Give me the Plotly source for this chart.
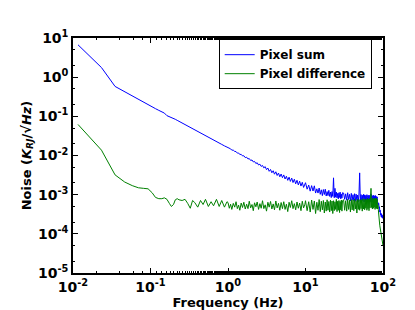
import plotly.graph_objects as go

# frequency grid (Hz), shared by both spectra
freq = [
    0.0116, 0.0233, 0.0349, 0.0465, 0.0582, 0.0698, 0.0815, 0.0931, 0.105, 0.116,
    0.128, 0.140, 0.151, 0.163, 0.175, 0.186, 0.198, 0.209, 0.221, 0.233,
    0.256, 0.279, 0.302, 0.326, 0.349, 0.372, 0.407, 0.442, 0.477, 0.512,
    0.558, 0.605, 0.651, 0.71, 0.77, 0.83, 0.9, 0.97,
    1.0, 1.04, 1.08, 1.12, 1.17, 1.22, 1.27, 1.32, 1.37, 1.42,
    1.48, 1.54, 1.6, 1.67, 1.74, 1.81, 1.88, 1.96, 2.04, 2.12,
    2.2, 2.29, 2.38, 2.48, 2.58, 2.68, 2.79, 2.9, 3.02, 3.14,
    3.27, 3.4, 3.54, 3.68, 3.83, 3.98, 4.14, 4.31, 4.48, 4.66,
    4.85, 5.04, 5.24, 5.45, 5.67, 5.9, 6.14, 6.38, 6.64, 6.9,
    7.18, 7.47, 7.77, 8.08, 8.4, 8.74, 9.09, 9.45, 9.83,
    10, 10.5, 11, 11.5, 12, 12.5, 13, 13.5, 14, 14.5,
    15, 15.5, 16, 16.5, 17, 17.5, 18, 18.5, 19, 19.5,
    20, 20.5, 21, 21.5, 22, 22.5, 23, 23.5, 24, 24.5,
    25, 25.5, 26, 26.5, 27, 27.5, 28, 28.5, 29, 29.5, 30,
    31, 32, 33, 34, 35, 36, 37, 38, 39, 40,
    41, 42, 43, 44, 45, 46, 47, 48, 49, 50,
    51, 52, 53, 54, 55, 56, 57, 58, 59, 60,
    61, 62, 63, 64, 65, 66, 67, 68, 69, 70,
    71, 72, 73, 74, 75, 76, 77, 78, 79, 80,
    81, 82, 83, 84, 85,
    86, 87, 88, 89, 90, 91, 92, 93, 94, 95, 96, 97, 98, 99, 100,
]

# Pixel sum noise (K_RJ/sqrt(Hz))
pixel_sum = [
    6.7, 1.76, 0.58, 0.42, 0.33, 0.272, 0.230, 0.200, 0.175, 0.157,
    0.142, 0.129, 0.121, 0.104, 0.099, 0.095, 0.089, 0.084, 0.079, 0.0748,
    0.0676, 0.0615, 0.0566, 0.0522, 0.0485, 0.0453, 0.0411, 0.0377, 0.0347, 0.0322,
    0.0293, 0.0269, 0.0248, 0.0227, 0.0208, 0.0192, 0.0176, 0.0163,
    1.62e-2, 1.49e-2, 1.48e-2, 1.37e-2, 1.37e-2, 1.27e-2, 1.26e-2, 1.15e-2, 1.16e-2, 1.06e-2,
    1.07e-2, 9.75e-3, 9.86e-3, 8.83e-3, 9.06e-3, 8.17e-3, 8.36e-3, 7.46e-3, 7.69e-3, 6.86e-3,
    7.06e-3, 6.24e-3, 6.53e-3, 5.73e-3, 6.01e-3, 5.27e-3, 5.56e-3, 4.83e-3, 5.2e-3, 4.35e-3,
    4.78e-3, 3.95e-3, 4.4e-3, 3.62e-3, 4.08e-3, 3.33e-3, 3.84e-3, 3.09e-3, 3.56e-3, 2.86e-3,
    3.37e-3, 2.71e-3, 3.19e-3, 2.51e-3, 2.95e-3, 2.32e-3, 2.8e-3, 2.18e-3, 2.65e-3, 2.04e-3,
    2.48e-3, 1.89e-3, 2.33e-3, 1.77e-3, 2.21e-3, 1.66e-3, 2.07e-3, 1.53e-3, 1.94e-3,
    2.02e-3, 1.38e-3, 1.76e-3, 1.23e-3, 1.70e-3, 1.24e-3, 1.68e-3, 1.10e-3, 1.41e-3, 1.10e-3,
    1.48e-3, 1.02e-3, 1.33e-3, 9.44e-4, 1.35e-3, 1.01e-3, 1.38e-3, 9.23e-4, 1.20e-3, 9.44e-4,
    1.29e-3, 9.02e-4, 1.17e-3, 8.41e-4, 1.20e-3, 9.02e-4, 2.69e-3, 8.32e-4, 1.45e-3, 8.61e-4,
    1.17e-3, 8.28e-4, 1.08e-3, 7.82e-4, 1.12e-3, 8.47e-4, 1.16e-3, 7.83e-4, 1.03e-3, 8.15e-4, 1.12e-3,
    1.10e-3, 7.6e-4, 1.05e-3, 7.2e-4, 1.12e-3, 7.5e-4, 1.02e-3, 6.9e-4, 1.08e-3, 7.3e-4,
    1.00e-3, 7.0e-4, 1.06e-3, 6.8e-4, 1.03e-3, 7.1e-4, 9.8e-4, 6.6e-4, 1.04e-3, 3.6e-3,
    6.9e-4, 1.01e-3, 6.7e-4, 9.7e-4, 7.0e-4, 1.02e-3, 6.5e-4, 9.9e-4, 6.8e-4, 9.6e-4,
    6.6e-4, 1.00e-3, 6.4e-4, 9.5e-4, 6.9e-4, 9.8e-4, 6.5e-4, 9.4e-4, 6.7e-4, 1.05e-3,
    6.4e-4, 9.6e-4, 6.6e-4, 9.3e-4, 6.3e-4, 9.7e-4, 6.5e-4, 9.2e-4, 6.2e-4, 9.5e-4,
    6.4e-4, 9.0e-4, 6.1e-4, 8.8e-4, 6.0e-4,
    6.3e-4, 5.5e-4, 6.0e-4, 4.6e-4, 4.9e-4, 3.6e-4, 4.0e-4, 3.0e-4, 3.4e-4, 2.7e-4,
    3.2e-4, 2.6e-4, 3.0e-4, 2.5e-4, 2.8e-4,
]

# Pixel difference noise (K_RJ/sqrt(Hz))
pixel_diff = [
    0.062, 0.0137, 0.0032, 0.0021, 0.0017, 0.0015, 0.00145, 0.00141, 0.00112, 0.00085,
    0.00079, 0.00079, 0.00083, 0.00076, 0.0006, 0.0005, 0.00056, 0.00074, 0.00079, 0.00074,
    0.00071, 0.00076, 0.0006, 0.00045, 0.00071, 0.00063, 0.00048, 0.00071, 0.00056, 0.00076,
    0.0005, 0.00066, 0.00052, 0.00076, 0.0005, 0.00071, 0.00048, 0.00066,
    6.3e-4, 4.5e-4, 5.7e-4, 4.2e-4, 6.0e-4, 4.8e-4, 6.6e-4, 4.4e-4, 5.4e-4, 4.0e-4,
    6.1e-4, 4.7e-4, 6.4e-4, 4.3e-4, 5.7e-4, 4.4e-4, 6.8e-4, 4.6e-4, 5.6e-4, 3.9e-4,
    6.2e-4, 4.9e-4, 6.5e-4, 4.2e-4, 5.9e-4, 4.5e-4, 7.0e-4, 4.4e-4, 5.5e-4, 3.8e-4,
    6.4e-4, 4.8e-4, 6.7e-4, 4.3e-4, 5.8e-4, 4.1e-4, 6.9e-4, 4.6e-4, 6.0e-4, 4.0e-4,
    6.3e-4, 4.4e-4, 6.6e-4, 4.2e-4, 5.7e-4, 3.7e-4, 6.4e-4, 4.7e-4, 7.0e-4, 4.4e-4,
    5.9e-4, 4.1e-4, 6.5e-4, 4.5e-4, 6.1e-4, 3.9e-4, 6.8e-4, 4.6e-4, 5.7e-4,
    7.0e-4, 3.9e-4, 6.6e-4, 3.6e-4, 7.3e-4, 4.2e-4, 6.9e-4, 3.3e-4, 6.4e-4, 4.0e-4,
    7.5e-4, 3.7e-4, 6.8e-4, 4.1e-4, 7.1e-4, 3.4e-4, 6.5e-4, 3.8e-4, 7.4e-4, 4.0e-4,
    6.7e-4, 3.6e-4, 7.2e-4, 3.9e-4, 6.9e-4, 3.3e-4, 7.0e-4, 3.9e-4, 6.6e-4, 4.2e-4,
    7.6e-4, 3.7e-4, 6.8e-4, 4.0e-4, 7.1e-4, 3.5e-4, 6.7e-4, 4.1e-4, 7.3e-4, 3.8e-4, 7.0e-4,
    7.4e-4, 4.0e-4, 7.0e-4, 3.8e-4, 7.6e-4, 4.2e-4, 7.2e-4, 3.6e-4, 7.5e-4, 4.1e-4,
    7.3e-4, 3.9e-4, 7.8e-4, 4.3e-4, 7.1e-4, 3.4e-4, 7.6e-4, 4.2e-4, 7.4e-4, 4.0e-4,
    7.7e-4, 4.4e-4, 7.3e-4, 3.8e-4, 7.9e-4, 4.3e-4, 7.5e-4, 4.1e-4, 7.8e-4, 4.5e-4,
    7.4e-4, 4.0e-4, 8.0e-4, 4.4e-4, 7.6e-4, 3.9e-4, 7.9e-4, 4.6e-4, 7.5e-4, 1.45e-3,
    4.7e-4, 7.8e-4, 4.3e-4, 8.1e-4, 4.5e-4, 7.7e-4, 4.8e-4, 8.0e-4, 4.2e-4, 7.9e-4,
    4.6e-4, 8.2e-4, 4.4e-4, 7.6e-4, 4.3e-4,
    5.5e-4, 4.2e-4, 3.6e-4, 2.6e-4, 2.0e-4, 1.6e-4, 1.4e-4, 1.1e-4, 1.0e-4, 8.0e-5,
    8.9e-5, 6.3e-5, 7.1e-5, 5.6e-5, 5.0e-5,
]

x_ticks = [0.01, 0.1, 1, 10, 100]
x_labels = ["10<sup>-2</sup>", "10<sup>-1</sup>", "10<sup>0</sup>", "10<sup>1</sup>", "10<sup>2</sup>"]
y_ticks = [1e-5, 1e-4, 1e-3, 1e-2, 1e-1, 1, 10]
y_labels = ["10<sup>-5</sup>", "10<sup>-4</sup>", "10<sup>-3</sup>", "10<sup>-2</sup>",
            "10<sup>-1</sup>", "10<sup>0</sup>", "10<sup>1</sup>"]

fig = go.Figure()
fig.add_trace(go.Scatter(x=freq, y=pixel_sum, mode="lines", name="Pixel sum",
                         line=dict(color="#0000ff", width=1)))
fig.add_trace(go.Scatter(x=freq, y=pixel_diff, mode="lines", name="Pixel difference",
                         line=dict(color="#008000", width=1)))

axis_style = dict(
    showline=True, linecolor="black", linewidth=1.5, mirror="allticks",
    ticks="inside", ticklen=5, tickwidth=1, tickcolor="black",
    showgrid=False, zeroline=False,
    tickfont=dict(family="DejaVu Sans", size=14, color="black", weight="bold"),
    minor=dict(ticks="inside", ticklen=2.5, tickcolor="black", showgrid=False),
)

fig.update_xaxes(type="log", range=[-2, 2], tickvals=x_ticks, ticktext=x_labels,
                 title=dict(text="Frequency (Hz)", standoff=2,
                            font=dict(family="DejaVu Sans", size=13, color="black", weight="bold")),
                 **axis_style)
fig.update_yaxes(type="log", range=[-5, 1], tickvals=y_ticks, ticktext=y_labels,
                 title=dict(text="Noise (<i>K<sub>RJ</sub></i>/√<i>Hz</i>)", standoff=4,
                            font=dict(family="DejaVu Sans", size=13, color="black", weight="bold")),
                 **axis_style)

fig.update_layout(
    width=415, height=310,
    margin=dict(l=65, r=40, t=30, b=41),
    plot_bgcolor="white", paper_bgcolor="white",
    showlegend=True,
    legend=dict(x=0.47, y=0.995, xanchor="left", yanchor="top",
                bgcolor="white", bordercolor="black", borderwidth=1,
                font=dict(family="DejaVu Sans", size=12, color="black", weight="bold"),
                tracegroupgap=0, itemwidth=30),
)

fig.write_html("out.html")
